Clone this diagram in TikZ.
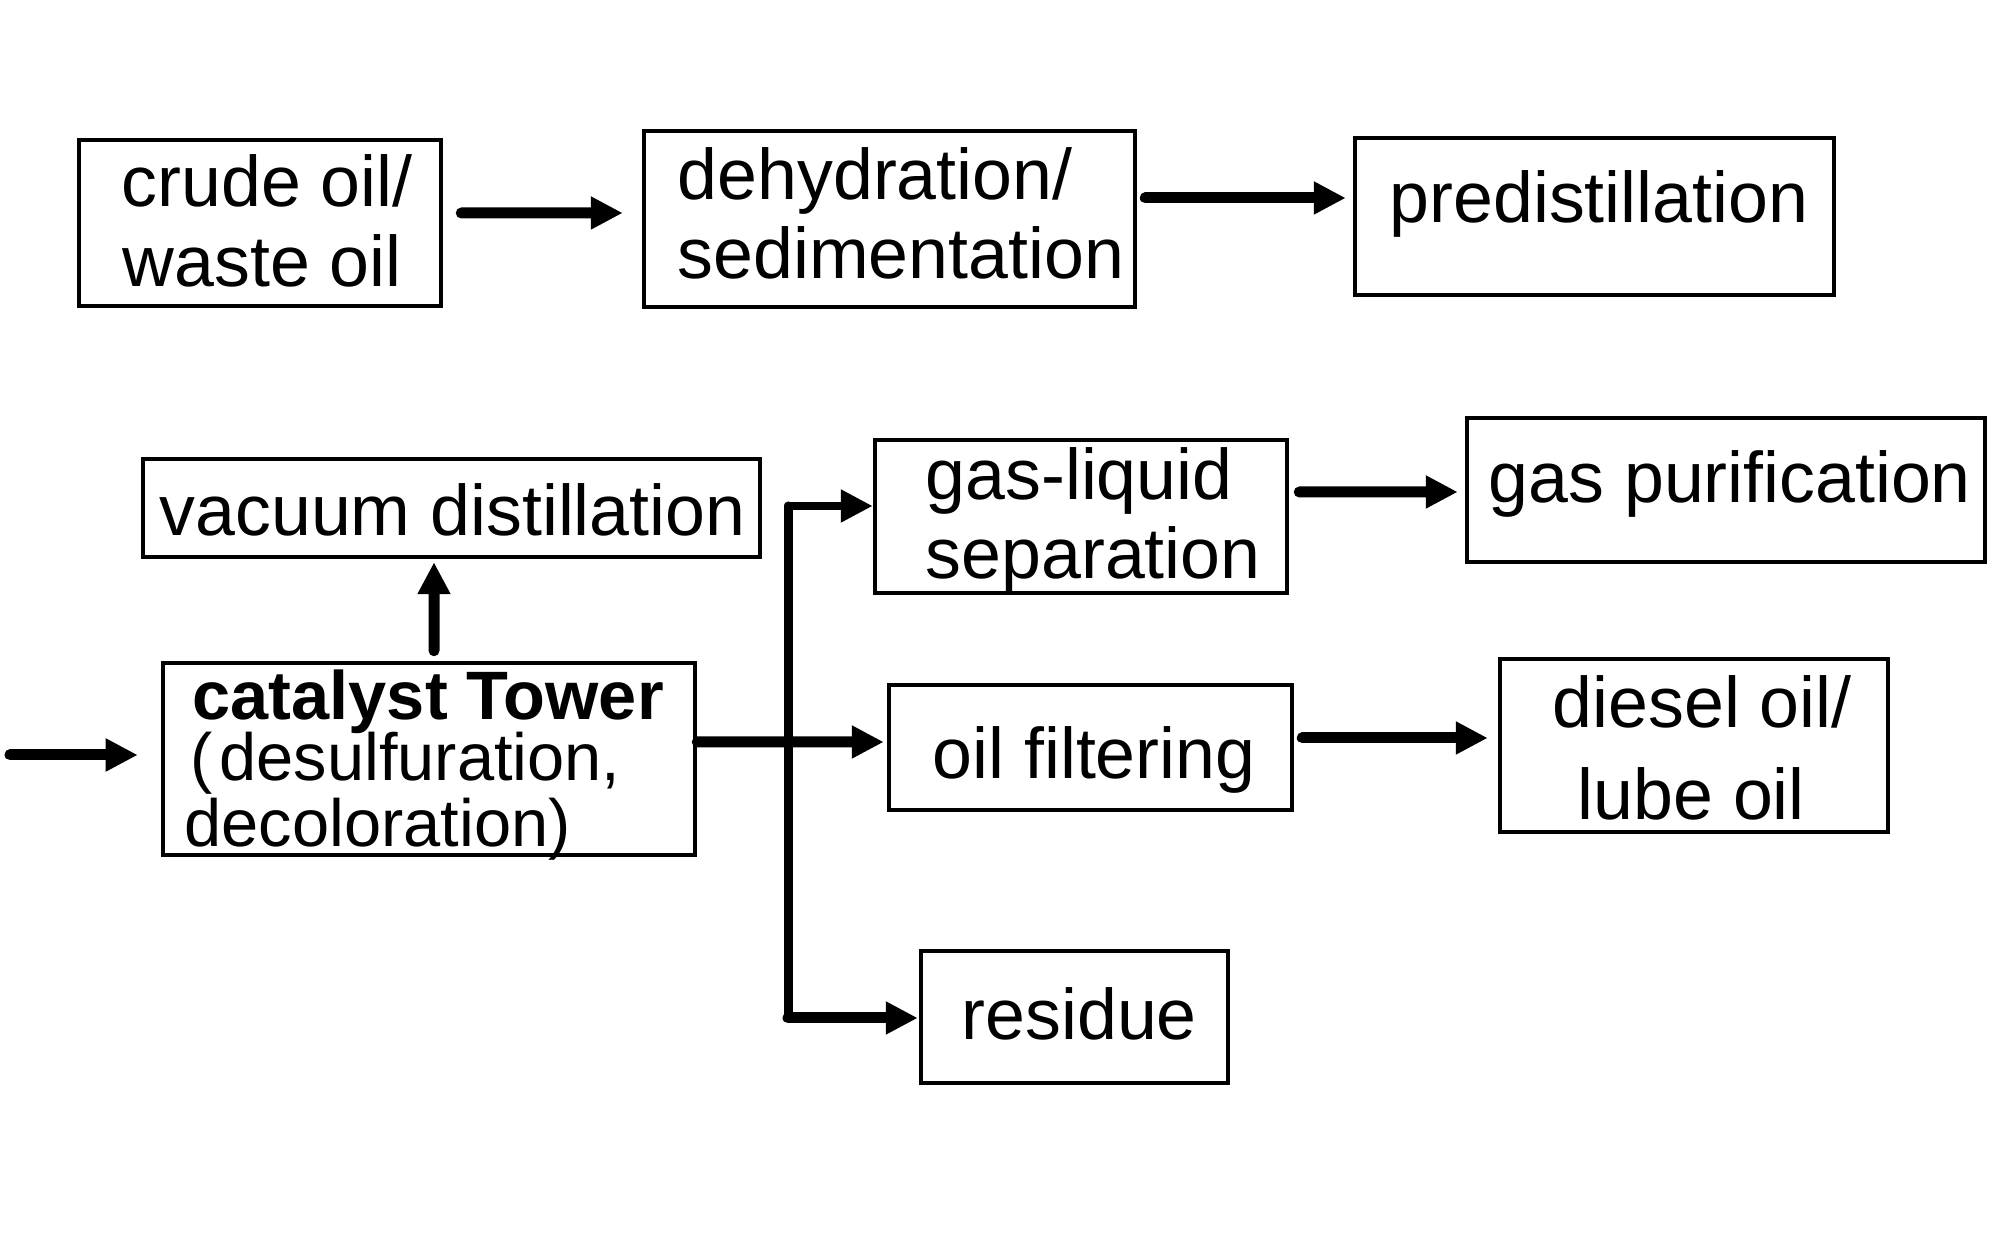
\documentclass[tikz,border=0pt]{standalone}
\usepackage{fontspec}
\setmainfont{Liberation Sans}
\usetikzlibrary{arrows.meta}
\begin{document}
\begin{tikzpicture}[
  box/.style={draw=black, line width=0.045cm, inner sep=0pt, fill=white},
  txt/.style={anchor=base west, inner sep=0pt, font=\fontsize{20.4}{24}\selectfont},
  arr/.style={line width=0.11cm, line cap=round, -{Triangle[length=0.32cm,width=0.31cm]}},
  arrthin/.style={line width=0.08cm, line cap=round, -{Triangle[length=0.32cm,width=0.31cm]}},
  trunk/.style={line width=0.09cm, line cap=round}
]
\fill[white] (0,0) rectangle (20,-12.57);
\useasboundingbox (0,0) rectangle (20,-12.57);

% boxes
\node[box, minimum width=3.62cm, minimum height=1.66cm] (crude) at (2.60,-2.23) {};
\node[box, minimum width=4.91cm, minimum height=1.76cm] (dehyd) at (8.895,-2.19) {};
\node[box, minimum width=4.79cm, minimum height=1.57cm] (predist) at (15.945,-2.165) {};
\node[box, minimum width=6.17cm, minimum height=0.98cm] (vacuum) at (4.515,-5.08) {};
\node[box, minimum width=5.32cm, minimum height=1.92cm] (catalyst) at (4.29,-7.59) {};
\node[box, minimum width=4.12cm, minimum height=1.53cm] (gasliq) at (10.81,-5.165) {};
\node[box, minimum width=5.18cm, minimum height=1.44cm] (gaspur) at (17.26,-4.90) {};
\node[box, minimum width=4.03cm, minimum height=1.25cm] (oilf) at (10.905,-7.475) {};
\node[box, minimum width=3.88cm, minimum height=1.73cm] (diesel) at (16.94,-7.455) {};
\node[box, minimum width=3.07cm, minimum height=1.32cm] (residue) at (10.745,-10.17) {};

% texts
\node[txt] (t1) at (1.21,-2.07) {crude oil/};
\node[txt] (t2) at (1.22,-2.87) {waste oil};
\node[txt] (t3) at (6.77,-2.00) {dehydration/};
\node[txt] (t4) at (6.77,-2.79) {sedimentation};
\node[txt] (t5) at (13.89,-2.23) {predistillation};
\node[txt] (t6) at (1.59,-5.36) {vacuum distillation};
\node[txt, font=\fontsize{19.5}{24}\selectfont\bfseries] (t7) at (1.92,-7.20) {catalyst Tower};
\node[txt, font=\fontsize{19}{24}\selectfont] (t8) at (1.90,-7.81) {(\kern0.1em desulfuration,};
\node[txt, font=\fontsize{19}{24}\selectfont] (t9) at (1.84,-8.47) {decoloration)};
\node[txt] (t10) at (9.25,-5.00) {gas-liquid};
\node[txt] (t11) at (9.25,-5.79) {separation};
\node[txt] (t12) at (14.88,-5.03) {gas purification};
\node[txt] (t13) at (9.32,-7.79) {oil filtering};
\node[txt] (t14) at (15.52,-7.28) {diesel oil/};
\node[txt] (t15) at (15.77,-8.20) {lube oil};
\node[txt] (t16) at (9.61,-10.40) {residue};

% connectors
\draw[arr] ([shift={(0.18,0.10)}]crude.east) -- ([shift={(-0.19,0.06)}]dehyd.west);
\draw[arr] ([shift={(0.08,0.21)}]dehyd.east) -- ([shift={(-0.07,0.185)}]predist.west);
\coordinate (inp) at (0.10,-7.55);
\draw[arr] (inp) -- ([shift={(-0.23,0.04)}]catalyst.west);
\draw[arr] ([shift={(0.05,0.10)}]catalyst.north) -- ([shift={(-0.175,-0.03)}]vacuum.south);
\draw[arr] ([shift={(0,0.17)}]catalyst.east) -- ([shift={(-0.03,0.055)}]oilf.west);
\coordinate (ttop) at (7.88,-5.06);
\coordinate (tbot) at (7.88,-10.18);
\draw[trunk] (ttop) -- (tbot);
\draw[arrthin] (ttop) -- ([shift={(0,0.105)}]gasliq.west);
\draw[arr] (tbot) -- ([shift={(-0.01,-0.01)}]residue.west);
\draw[arr] ([shift={(0.10,0.245)}]gasliq.east) -- ([shift={(-0.07,-0.02)}]gaspur.west);
\draw[arr] ([shift={(0.08,0.095)}]oilf.east) -- ([shift={(-0.10,0.075)}]diesel.west);
\end{tikzpicture}
\end{document}
